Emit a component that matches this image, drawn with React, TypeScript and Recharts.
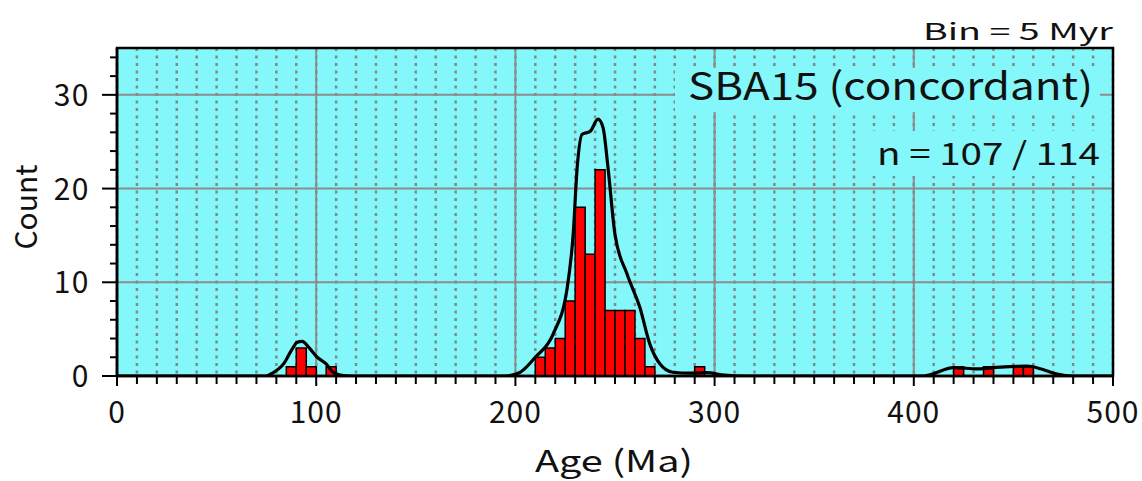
import { Bar, CartesianGrid, ComposedChart, Line, ReferenceArea, XAxis, YAxis } from 'recharts';

// histogram, 5 Myr bins (bin start ages, non-empty bins only)
const binStarts = [85, 90, 95, 105, 210, 215, 220, 225, 230, 235, 240, 245, 250, 255, 260, 265, 290, 420, 435, 450, 455];
const binCounts = [1, 3, 1, 1, 2, 3, 4, 8, 18, 13, 22, 7, 7, 7, 4, 1, 1, 1, 1, 1, 1];

// density curve
const kdeAges = [0, 75, 78, 84, 88, 90.5, 93, 96.5, 100.5, 105, 108, 112, 118, 195, 202, 210, 219, 226, 229, 231, 233.5, 237.5, 241.5, 244, 246.5, 250, 256, 262.5, 267.5, 272.5, 279, 288, 296, 305, 315, 405, 420, 432, 443.5, 457, 464, 472, 480, 500];
const kdeValues = [0, 0, 0.3, 1.4, 2.9, 3.6, 3.7, 3.0, 2.0, 1.3, 0.5, 0.1, 0, 0, 0.35, 2.0, 4.5, 9.4, 15.1, 22.2, 25.8, 26.1, 27.4, 26.5, 22.2, 15.1, 10.9, 7.3, 3.4, 1.3, 0.4, 0.3, 0.35, 0.1, 0, 0, 0.9, 0.75, 0.95, 1.05, 0.75, 0.2, 0, 0];

const xMajorTicks = [0, 100, 200, 300, 400, 500];
const yMajorTicks = [0, 10, 20, 30];
const xGridSolid = [100, 200, 300, 400];
const yGridSolid = [10, 20, 30];
const xAllTicks = Array.from({ length: 51 }, (_, i) => i * 10);
const yAllTicks = Array.from({ length: 18 }, (_, i) => i * 2);

const BIN = 5;
const FONT = '"Noto Sans CJK JP", "Noto Sans", sans-serif';
const CYAN = '#84F7FA';

const histData = binStarts.map((s, i) => ({ age: s + BIN / 2, count: binCounts[i] }));
const kdeData = kdeAges.map((a, i) => ({ age: a, kde: kdeValues[i] }));

function YTick(props: any) {
  const { x, y, payload } = props;
  const major = yMajorTicks.includes(payload.value);
  return (
    <g>
      <line x1={x - (major ? 15 : 7)} x2={x} y1={y} y2={y} stroke="#000" strokeWidth={2} />
      {major && (
        <text x={x - 27} y={y + 11} textAnchor="end" fontSize={30} fontFamily={FONT} fill="#111" letterSpacing={1.5}>
          {payload.value}
        </text>
      )}
    </g>
  );
}

function XTick(props: any) {
  const { x, y, payload } = props;
  const major = xMajorTicks.includes(payload.value);
  return (
    <g>
      <line x1={x} x2={x} y1={y} y2={y + (major ? 10 : 8)} stroke="#000" strokeWidth={2} />
      {major && (
        <text x={x} y={y + 47} textAnchor="middle" fontSize={30} fontFamily={FONT} fill="#111" letterSpacing={1}>
          {payload.value}
        </text>
      )}
    </g>
  );
}

export default function App() {
  return (
    <div style={{ position: 'absolute', left: 0, top: 0, width: 1142, height: 481, background: '#fff', overflow: 'hidden' }}>
      <ComposedChart
        width={1142}
        height={481}
        data={histData}
        margin={{ top: 48, right: 29, bottom: 0, left: 0 }}
        barGap={0}
        barCategoryGap={0}
      >
        <XAxis
          xAxisId="main"
          dataKey="age"
          type="number"
          domain={[0, 500]}
          ticks={xAllTicks}
          interval={0}
          height={105}
          tickSize={0}
          tickMargin={0}
          tick={<XTick />}
          axisLine={{ stroke: '#000', strokeWidth: 2.5 }}
          allowDataOverflow
        />
        <XAxis xAxisId="bars" dataKey="age" type="number" domain={[0, 500]} height={0} hide allowDataOverflow />
        <YAxis
          yAxisId="main"
          type="number"
          domain={[0, 35]}
          ticks={yAllTicks}
          interval={0}
          width={117}
          tickSize={0}
          tickMargin={0}
          tick={<YTick />}
          axisLine={{ stroke: '#000', strokeWidth: 2.5 }}
          allowDataOverflow
        />
        <CartesianGrid
          xAxisId="main"
          yAxisId="main"
          horizontal={false}
          verticalValues={xAllTicks}
          fill={CYAN}
          fillOpacity={1}
          stroke="#7d8b8d"
          strokeWidth={2.5}
          strokeDasharray="3 4.5"
        />
        <CartesianGrid
          xAxisId="main"
          yAxisId="main"
          verticalValues={xGridSolid}
          horizontalValues={yGridSolid}
          stroke="#8c8c8c"
          strokeWidth={2}
        />
        <Bar
          xAxisId="bars"
          yAxisId="main"
          dataKey="count"
          fill="#ff0000"
          stroke="#000"
          strokeWidth={1.5}
          isAnimationActive={false}
        />
        <Line
          xAxisId="main"
          yAxisId="main"
          data={kdeData}
          dataKey="kde"
          type="monotone"
          stroke="#000"
          strokeWidth={3.2}
          dot={false}
          activeDot={false}
          isAnimationActive={false}
        />
        <ReferenceArea
          xAxisId="main"
          yAxisId="main"
          x1={0}
          x2={500}
          y1={0}
          y2={35}
          fill="none"
          stroke="#000"
          strokeWidth={2.5}
          ifOverflow="visible"
        />
      </ComposedChart>

      <svg
        width={1142}
        height={481}
        style={{ position: 'absolute', left: 0, top: 0, pointerEvents: 'none' }}
        fontFamily={FONT}
        fill="#111"
      >
        <text x={923} y={40} fontSize={23} textLength={190} lengthAdjust="spacingAndGlyphs">Bin = 5 Myr</text>
        <rect x={675} y={68} width={425} height={44} fill={CYAN} />
        <text x={688} y={100} fontSize={38} textLength={405} lengthAdjust="spacingAndGlyphs">SBA15 (concordant)</text>
        <rect x={870} y={131} width={230} height={45} fill={CYAN} />
        <text x={877} y={165} fontSize={31} textLength={223} lengthAdjust="spacingAndGlyphs">n = 107 / 114</text>
        <text x={535} y={472} fontSize={30} textLength={158} lengthAdjust="spacingAndGlyphs">Age (Ma)</text>
        <text
          x={0}
          y={0}
          fontSize={30}
          textAnchor="middle"
          transform="translate(37 207) rotate(-90)"
        >
          Count
        </text>
      </svg>
    </div>
  );
}
